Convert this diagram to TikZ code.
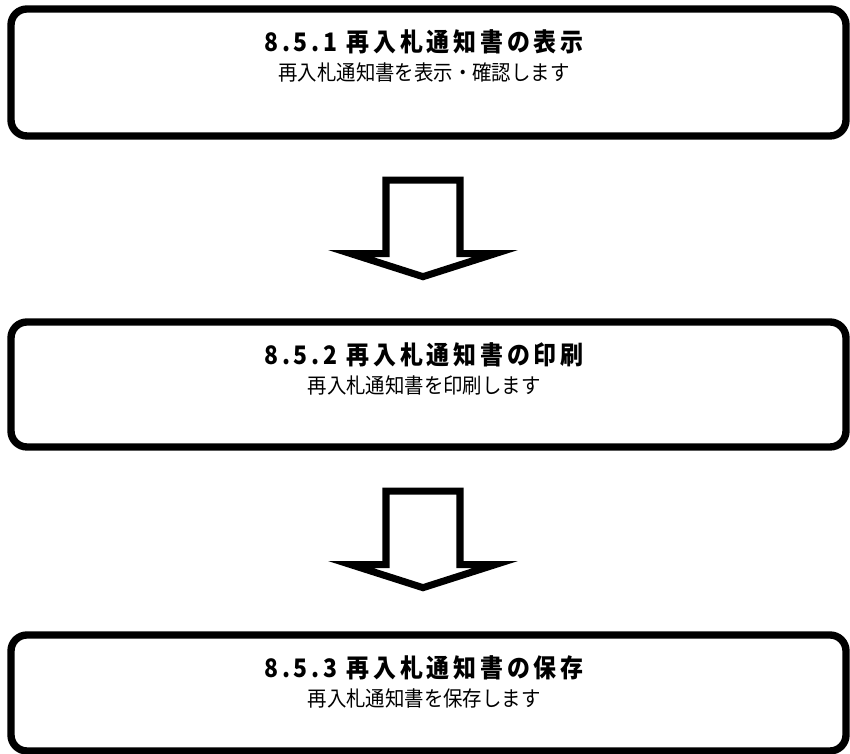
\documentclass[tikz,border=0pt]{standalone}
\usepackage{fontspec}
\usepackage{tikz}
\usetikzlibrary{positioning}
\newfontfamily\jpfont{Noto Sans CJK JP}[FakeStretch=0.92]
\newfontfamily\jptitlefont{Noto Sans CJK JP}[FakeStretch=0.9, LetterSpace=15]

\tikzset{
    stepbox/.style = {draw, line width=4.2pt, rounded corners=0.32cm, minimum width=16.7cm, inner sep=0pt},
    boxtitle/.style = {font=\jptitlefont\bfseries\fontsize{14.5pt}{17pt}\selectfont, inner sep=0pt},
    boxtext/.style = {font=\jpfont\fontsize{12pt}{14pt}\selectfont, inner sep=0pt},
    blockarrow/.style = {line width=4pt, line join=miter, miter limit=10}
}

\begin{document}
\begin{tikzpicture}[scale=1.0]
                    \useasboundingbox (0, 0) rectangle (17, 15.08);

                    \node [stepbox, minimum height=2.54cm] (show) at (8.57, 13.63) {};
                    \node [stepbox, minimum height=2.5cm] (print) at (8.57, 7.39) {};
                    \node [stepbox, minimum height=2.32cm] (store) at (8.57, 1.22) {};

                    \node [boxtitle] (showtitle) at ([xshift=-0.09cm, yshift=-0.73cm]show.north) {8.5.1 再入札通知書の表示};
                    \node [boxtext] (showtext) at ([xshift=-0.09cm, yshift=-1.34cm]show.north) {再入札通知書を表示・確認します};
                    \node [boxtitle] (printtitle) at ([xshift=-0.09cm, yshift=-0.73cm]print.north) {8.5.2 再入札通知書の印刷};
                    \node [boxtext] (printtext) at ([xshift=-0.09cm, yshift=-1.34cm]print.north) {再入札通知書を印刷します};
                    \node [boxtitle] (storetitle) at ([xshift=-0.09cm, yshift=-0.73cm]store.north) {8.5.3 再入札通知書の保存};
                    \node [boxtext] (storetext) at ([xshift=-0.09cm, yshift=-1.34cm]store.north) {再入札通知書を保存します};

                    \coordinate (arrowa) at ([xshift=-0.11cm, yshift=-0.81cm]show.south);
                    \coordinate (arrowb) at ([xshift=-0.11cm, yshift=-0.81cm]print.south);

                    \draw [blockarrow]([xshift=-0.74cm]arrowa) -- ++(1.48, 0) -- ++(0, -1.47) -- ++(0.7, 0) -- ++(-1.44, -0.46) -- ++(-1.44, 0.46) -- ++(0.7, 0) -- cycle;
                    \draw [blockarrow]([xshift=-0.74cm]arrowb) -- ++(1.48, 0) -- ++(0, -1.47) -- ++(0.7, 0) -- ++(-1.44, -0.46) -- ++(-1.44, 0.46) -- ++(0.7, 0) -- cycle;
\end{tikzpicture}
\end{document}
